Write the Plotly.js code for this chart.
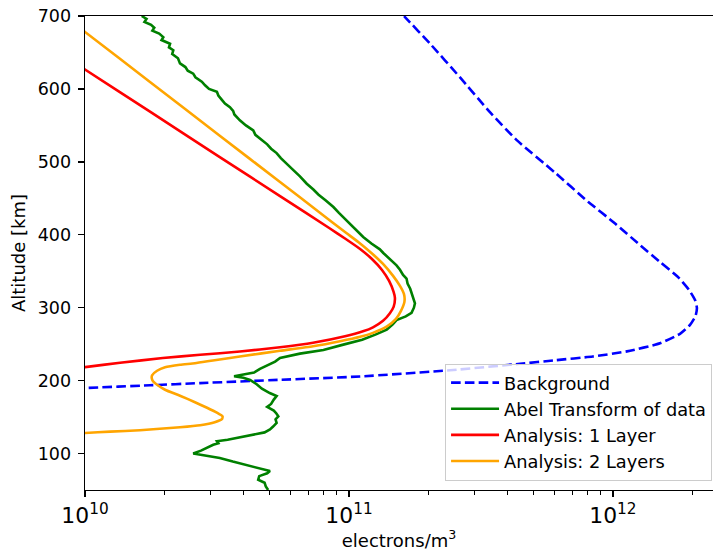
<!DOCTYPE html>
<html>
<head>
<meta charset="utf-8">
<script src="https://cdn.plot.ly/plotly-3.0.1.min.js"></script>
<style>
  html, body { margin: 0; padding: 0; background: #fff; }
  #chart { width: 713px; height: 551px; }
</style>
</head>
<body>
<div id="chart"></div>
<script>
// Background ionosphere profile (altitude in km, electron density in electrons/m^3)
const bgAlt = [189.1, 189.8, 193.6, 196.6, 201.1, 205.7, 214.2, 223.1, 227.9, 233.1, 240.1, 251.2, 264.2, 276.5, 288.8, 299.8, 310.7, 324.4, 342.2, 362.7, 386.0, 415.5, 445.3, 485.3, 529.8, 568.1, 616.1, 661.9, 698.6, 703];
const bgDensity = [9.16e9, 1.0e10, 1.763e10, 2.73e10, 5.48e10, 1.102e11, 2.415e11, 4.45e11, 6.03e11, 8.39e11, 1.130e12, 1.507e12, 1.795e12, 1.959e12, 2.056e12, 2.080e12, 2.046e12, 1.941e12, 1.762e12, 1.507e12, 1.265e12, 1.019e12, 8.05e11, 6.03e11, 4.32e11, 3.42e11, 2.63e11, 2.03e11, 1.63e11, 1.59e11];

// Abel transform of the measured data
const abelAlt = [700, 696, 692, 688, 684, 680, 676, 671, 667, 662, 657, 653, 648, 642, 635, 630, 625, 621, 616, 610, 605, 600, 596, 591, 585, 580, 575, 570, 565, 557, 550, 543, 537, 530, 524, 518, 512, 505, 498, 490, 480, 470, 462, 455, 447, 438, 430, 420, 410, 402, 397, 388, 380, 375, 365, 358, 352, 345, 340, 333, 326, 320, 313, 306, 300, 293, 288, 283, 277, 270, 263, 256, 249, 242, 237, 231, 226, 221, 216, 211, 207, 206, 204, 201, 195, 189, 183, 179, 174, 168, 164, 159, 155, 151, 147, 142, 137, 133, 129, 126, 123, 119, 117, 114, 112, 108, 104, 100, 97, 94, 89, 84, 80, 76, 73, 69, 64, 60, 55, 50];
const abelDensity = [1.64e10, 1.71e10, 1.68e10, 1.78e10, 1.83e10, 1.80e10, 1.91e10, 1.98e10, 1.95e10, 2.10e10, 2.08e10, 2.16e10, 2.14e10, 2.25e10, 2.29e10, 2.40e10, 2.45e10, 2.57e10, 2.62e10, 2.77e10, 2.85e10, 2.95e10, 3.16e10, 3.20e10, 3.30e10, 3.39e10, 3.54e10, 3.64e10, 3.68e10, 3.86e10, 4.07e10, 4.34e10, 4.42e10, 4.66e10, 4.90e10, 5.07e10, 5.32e10, 5.52e10, 5.81e10, 6.10e10, 6.52e10, 6.92e10, 7.33e10, 7.67e10, 8.17e10, 8.73e10, 9.16e10, 9.79e10, 1.042e11, 1.102e11, 1.132e11, 1.216e11, 1.309e11, 1.349e11, 1.445e11, 1.514e11, 1.560e11, 1.603e11, 1.652e11, 1.667e11, 1.706e11, 1.726e11, 1.754e11, 1.778e11, 1.762e11, 1.726e11, 1.641e11, 1.514e11, 1.462e11, 1.390e11, 1.259e11, 1.122e11, 9.44e10, 8.00e10, 6.52e10, 5.48e10, 5.25e10, 4.90e10, 4.60e10, 4.37e10, 3.85e10, 3.67e10, 3.98e10, 4.22e10, 4.47e10, 4.68e10, 5.01e10, 5.32e10, 5.19e10, 5.07e10, 4.90e10, 5.19e10, 5.31e10, 5.40e10, 5.27e10, 5.32e10, 5.16e10, 5.02e10, 4.79e10, 4.37e10, 4.03e10, 3.47e10, 3.16e10, 3.20e10, 3.06e10, 2.92e10, 2.75e10, 2.57e10, 2.95e10, 3.24e10, 3.63e10, 4.12e10, 4.47e10, 5.02e10, 4.90e10, 4.57e10, 4.53e10, 4.79e10, 4.84e10, 4.94e10];

// Single-layer fit
const oneLayerAlt = [635.5, 626.6, 568.8, 506.5, 453.1, 408.6, 394.9, 380.5, 366.8, 351.8, 336.7, 321.7, 313.4, 301.1, 292.5, 282.0, 273.1, 267.6, 260.7, 251.8, 245.7, 239.9, 235.4, 230.9, 224.4, 218.5, 216.9];
const oneLayerDensity = [9.16e9, 1.0e10, 1.763e10, 3.24e10, 5.48e10, 8.47e10, 9.66e10, 1.102e11, 1.222e11, 1.334e11, 1.419e11, 1.476e11, 1.493e11, 1.476e11, 1.429e11, 1.346e11, 1.233e11, 1.130e11, 9.66e10, 7.31e10, 5.48e10, 3.86e10, 2.73e10, 1.972e10, 1.358e10, 1.0e10, 9.16e9];

// Two-layer fit
const twoLayerAlt = [688.6, 678.1, 609.6, 535.8, 472.4, 430.2, 403.8, 388.1, 374.4, 360.0, 343.6, 329.9, 318.9, 308.0, 295.7, 284.7, 274.4, 265.5, 260.0, 253.9, 247.0, 240.9, 233.1, 227.6, 223.8, 221.7, 218.3, 213.5, 207.3, 203.5, 199.1, 194.3, 187.5, 179.3, 170.4, 162.8, 156.0, 150.9, 147.1, 142.9, 138.9, 136.1, 132.0, 130.0, 128.2, 127.6];
const twoLayerDensity = [9.16e9, 1.0e10, 1.763e10, 3.24e10, 5.48e10, 7.76e10, 9.66e10, 1.102e11, 1.222e11, 1.346e11, 1.469e11, 1.560e11, 1.615e11, 1.622e11, 1.574e11, 1.507e11, 1.393e11, 1.233e11, 1.102e11, 9.25e10, 7.31e10, 5.48e10, 3.86e10, 3.05e10, 2.61e10, 2.29e10, 2.01e10, 1.875e10, 1.795e10, 1.79e10, 1.81e10, 1.875e10, 2.01e10, 2.29e10, 2.61e10, 2.90e10, 3.16e10, 3.32e10, 3.30e10, 3.10e10, 2.73e10, 2.29e10, 1.615e10, 1.245e10, 1.0e10, 9.16e9];

const FONT = 'DejaVu Sans, Liberation Sans, sans-serif';
const TICK_FS = 17.5;
const TITLE_FS = 18;
const LEGEND_FS = 17.8;

const traces = [
  {
    x: bgDensity, y: bgAlt, name: 'Background', mode: 'lines',
    line: { color: '#0000ff', width: 2.6, dash: '9.6px,4.2px', shape: 'spline', smoothing: 0.5 }
  },
  {
    x: abelDensity, y: abelAlt, name: 'Abel Transform of data', mode: 'lines',
    line: { color: '#008000', width: 2.6 }
  },
  {
    x: oneLayerDensity, y: oneLayerAlt, name: 'Analysis: 1 Layer', mode: 'lines',
    line: { color: '#ff0000', width: 2.6, shape: 'spline', smoothing: 0.5 }
  },
  {
    x: twoLayerDensity, y: twoLayerAlt, name: 'Analysis: 2 Layers', mode: 'lines',
    line: { color: '#ffa500', width: 2.6, shape: 'spline', smoothing: 0.5 }
  }
];

const layout = {
  width: 713, height: 551,
  margin: { l: 85, r: 0, t: 16, b: 61 },
  paper_bgcolor: '#ffffff', plot_bgcolor: '#ffffff',
  font: { family: FONT, size: TICK_FS, color: '#000' },
  showlegend: true,
  legend: {
    x: 0.9985, xanchor: 'right', y: 0.02, yanchor: 'bottom',
    bgcolor: 'rgba(255,255,255,0.8)', bordercolor: '#cccccc', borderwidth: 1,
    font: { family: FONT, size: LEGEND_FS, color: '#000' },
    itemwidth: 48
  },
  xaxis: {
    type: 'log', range: [10, 12.379],
    showgrid: false, zeroline: false,
    showline: true, linecolor: '#000', linewidth: 1.4, mirror: true,
    ticks: 'outside', ticklen: 6, tickwidth: 1.4, tickcolor: '#000',
    dtick: 1, exponentformat: 'power',
    tickfont: { family: FONT, size: TICK_FS, color: '#000' },
    minor: { ticks: 'outside', ticklen: 3.5, tickwidth: 1, tickcolor: '#000', dtick: 'D1', showgrid: false },
    title: { text: 'electrons/m<sup>3</sup>', font: { family: FONT, size: TITLE_FS, color: '#000' }, standoff: 4 }
  },
  yaxis: {
    range: [50, 700],
    showgrid: false, zeroline: false,
    showline: true, linecolor: '#000', linewidth: 1.4, mirror: false,
    ticks: 'outside', ticklen: 6, tickwidth: 1.4, tickcolor: '#000',
    tick0: 0, dtick: 100, ticklabelstandoff: 3,
    tickfont: { family: FONT, size: TICK_FS, color: '#000' },
    title: { text: 'Altitude [km]', font: { family: FONT, size: TITLE_FS, color: '#000' }, standoff: 7 }
  }
};

Plotly.newPlot('chart', traces, layout, { displayModeBar: false, staticPlot: true });
</script>
</body>
</html>
